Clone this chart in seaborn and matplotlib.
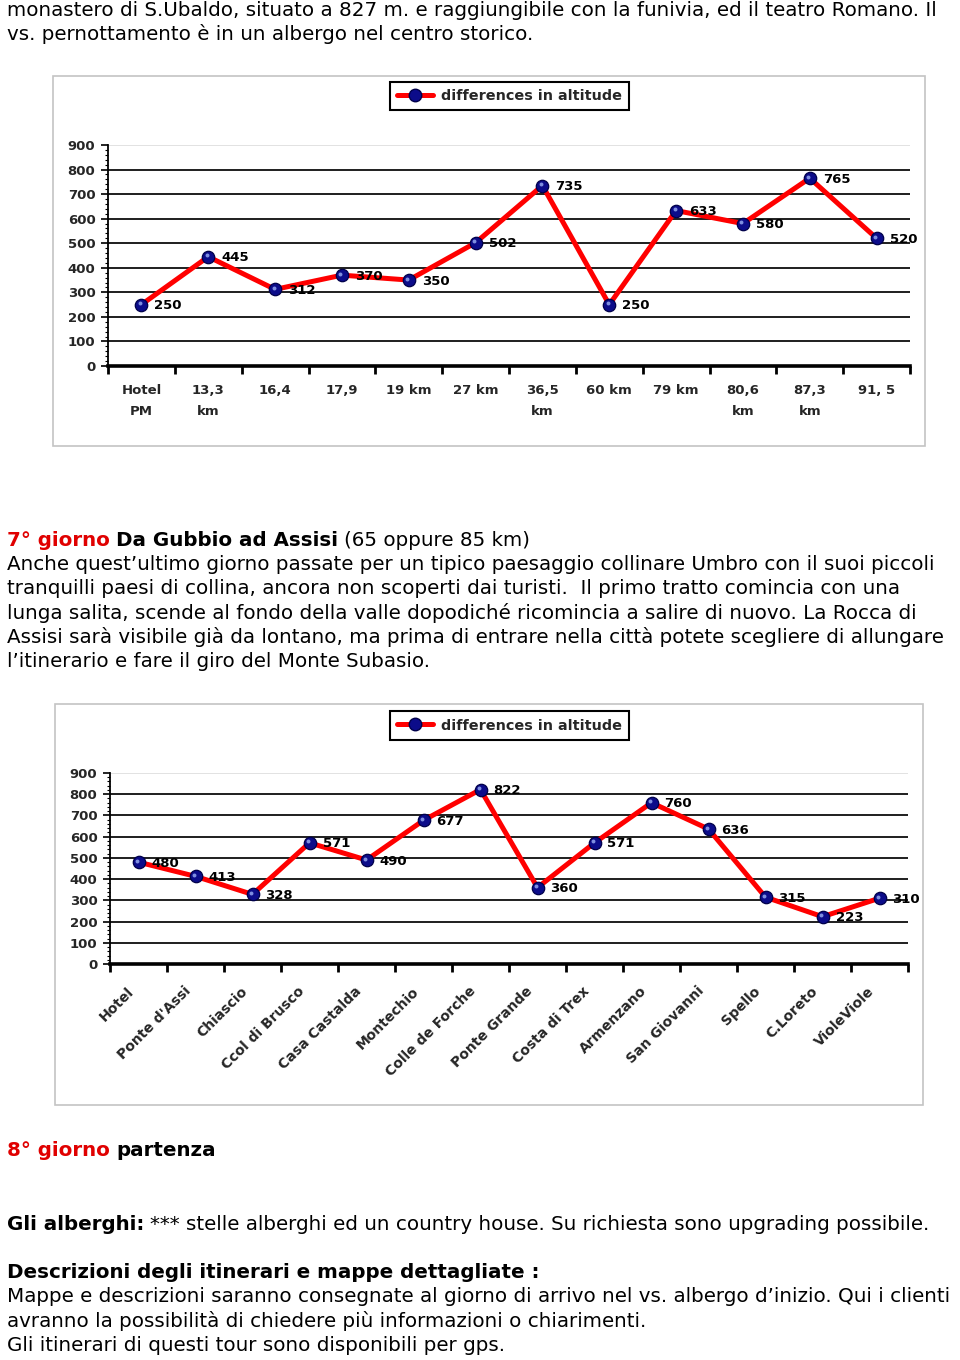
import numpy as np
import pandas as pd
import matplotlib
matplotlib.use("Agg")
import matplotlib.pyplot as plt
import matplotlib.transforms as mtransforms
from matplotlib.lines import Line2D
from matplotlib.patches import Rectangle
from matplotlib.ticker import MultipleLocator
import seaborn as sns

# ---------------- data ----------------
series_name = "differences in altitude"
y_ticks = [0, 100, 200, 300, 400, 500, 600, 700, 800, 900]

stage1_labels = ["Hotel\nPM", "13,3\nkm", "16,4", "17,9", "19 km", "27 km",
                 "36,5\nkm", "60 km", "79 km", "80,6\nkm", "87,3\nkm", "91, 5"]
stage1_alt = [250, 445, 312, 370, 350, 502, 735, 250, 633, 580, 765, 520]

stage2_labels = ["Hotel", "Ponte d'Assi", "Chiascio", "Ccol di Brusco",
                 "Casa Castalda", "Montechio", "Colle de Forche", "Ponte Grande",
                 "Costa di Trex", "Armenzano", "San Giovanni", "Spello",
                 "C.Loreto", "VioleViole"]
stage2_alt = [480, 413, 328, 571, 490, 677, 822, 360, 571, 760, 636, 315, 223, 310]

intro_lines = [
    "monastero di S.Ubaldo, situato a 827 m. e raggiungibile con la funivia, ed il teatro Romano. Il",
    "vs. pernottamento è in un albergo nel centro storico.",
]
day7_title = ["7° giorno", "Da Gubbio ad Assisi", "(65 oppure 85 km)"]
day7_lines = [
    "Anche quest’ultimo giorno passate per un tipico paesaggio collinare Umbro con il suoi piccoli",
    "tranquilli paesi di collina, ancora non scoperti dai turisti.  Il primo tratto comincia con una",
    "lunga salita, scende al fondo della valle dopodiché ricomincia a salire di nuovo. La Rocca di",
    "Assisi sarà visibile già da lontano, ma prima di entrare nella città potete scegliere di allungare",
    "l’itinerario e fare il giro del Monte Subasio.",
]
day8_title = ["8° giorno", "partenza"]
hotels_line = ["Gli alberghi:", "*** stelle alberghi ed un country house. Su richiesta sono upgrading possibile."]
descr_title = "Descrizioni degli itinerari e mappe dettagliate :"
descr_lines = [
    "Mappe e descrizioni saranno consegnate al giorno di arrivo nel vs. albergo d’inizio. Qui i clienti",
    "avranno la possibilità di chiedere più informazioni o chiarimenti.",
    "Gli itinerari di questi tour sono disponibili per gps.",
]

# ---------------- style ----------------
sns.set_theme(style="white")
plt.rcParams["font.family"] = ["DejaVu Sans"]

W, H = 960, 1360
fig = plt.figure(figsize=(W / 100, H / 100), dpi=100)
fig.patch.set_facecolor("white")

bg = fig.add_axes([0, 0, 1, 1], zorder=0)
bg.set_xlim(0, W)
bg.set_ylim(H, 0)
bg.axis("off")

TXT = 14.35
RED = "#e00000"
CHART_FONT = "DejaVu Sans"
CHART_SIZE = 9.5


def text_line(y, parts, x=7, size=TXT, gap=6):
    prev = None
    for txt, weight, color in parts:
        if prev is None:
            prev = bg.text(x, y, txt, ha="left", va="center", fontsize=size,
                           fontweight=weight, color=color, family="DejaVu Sans")
        else:
            prev = bg.annotate(txt, xy=(1, 0), xycoords=prev, xytext=(gap, 0),
                               textcoords="offset pixels", ha="left", va="bottom",
                               fontsize=size, fontweight=weight, color=color,
                               family="DejaVu Sans")
    return prev


# paragraphs
text_line(10, [(intro_lines[0], "normal", "black")])
text_line(34, [(intro_lines[1], "normal", "black")])

text_line(540, [(day7_title[0], "bold", RED), (day7_title[1], "bold", "black"),
                (day7_title[2], "normal", "black")])
for k, ln in enumerate(day7_lines):
    text_line(564 + k * 24.4, [(ln, "normal", "black")])

text_line(1150, [(day8_title[0], "bold", RED), (day8_title[1], "bold", "black")])
text_line(1224, [(hotels_line[0], "bold", "black"), (hotels_line[1], "normal", "black")])
text_line(1272, [(descr_title, "bold", "black")])
for k, ln in enumerate(descr_lines):
    text_line(1297 + k * 24.3, [(ln, "normal", "black")])


def chart(axrect, labels, values, box, leg_center, rotated):
    # outer chart frame
    bg.add_patch(Rectangle((box[0], box[1]), box[2] - box[0], box[3] - box[1],
                           fill=False, ec="#c4c4c4", lw=1.2))
    l, b, r, t = axrect
    ax = fig.add_axes([l / W, 1 - b / H, (r - l) / W, (b - t) / H], zorder=2)
    ax.patch.set_alpha(0)
    n = len(values)
    df = pd.DataFrame({"pos": np.arange(n), "alt": values})
    sns.lineplot(data=df, x="pos", y="alt", ax=ax, color="#ff0000", lw=3.6,
                 zorder=3)
    sns.scatterplot(data=df, x="pos", y="alt", ax=ax, color="#0c0c8a", s=80,
                    edgecolor="#00004a", linewidth=0.9, zorder=4)
    # glossy highlight
    hl = mtransforms.ScaledTranslation(-1.5 / 100, 1.5 / 100, fig.dpi_scale_trans)
    ax.scatter(df["pos"], df["alt"], s=8, color="#7f8fe0", linewidth=0,
               zorder=5, transform=ax.transData + hl)

    for i, v in zip(df["pos"], df["alt"]):
        ax.annotate(f"{v}", xy=(i, v), xytext=(13, -1), textcoords="offset pixels",
                    ha="left", va="center", fontsize=CHART_SIZE, fontweight="bold",
                    family=CHART_FONT, color="black", zorder=6)

    ax.set_xlim(-0.5, n - 0.5)
    ax.set_ylim(0, 900)
    ax.set_yticks(y_ticks)
    ax.yaxis.set_minor_locator(MultipleLocator(20))
    ax.set_xticks(np.arange(n))
    ax.set_xticks(np.arange(-0.5, n, 1), minor=True)
    ax.set_xticklabels(labels)
    ax.set_xlabel("")
    ax.set_ylabel("")

    ax.grid(axis="y", which="major", color="#1e1e1e", lw=1.4)
    ax.grid(axis="x", visible=False)
    ax.grid(axis="y", which="minor", visible=False)
    glines = ax.get_ygridlines()
    glines[-1].set_color("#e2e2e2")
    glines[0].set_visible(False)

    for s in ("top", "right"):
        ax.spines[s].set_visible(False)
    ax.spines["left"].set_color("black")
    ax.spines["left"].set_linewidth(1.3)
    ax.spines["bottom"].set_color("black")
    ax.spines["bottom"].set_linewidth(2.6)

    ax.tick_params(axis="y", which="major", left=True, length=5, width=1.2,
                   pad=4, labelsize=CHART_SIZE, color="black")
    ax.tick_params(axis="y", which="minor", left=True, length=2.5, width=0.8,
                   color="black")
    ax.tick_params(axis="x", which="major", bottom=True, length=0,
                   labelsize=CHART_SIZE if not rotated else 10)
    ax.tick_params(axis="x", which="minor", bottom=True, length=6, width=2,
                   color="black")
    for lbl in ax.get_yticklabels():
        lbl.set_fontweight("bold")
        lbl.set_family(CHART_FONT)
    if rotated:
        ax.tick_params(axis="x", which="major", pad=18)
        off = mtransforms.ScaledTranslation(-7 / 100, 0, fig.dpi_scale_trans)
        for lbl in ax.get_xticklabels():
            lbl.set_rotation(45)
            lbl.set_ha("right")
            lbl.set_va("center")
            lbl.set_rotation_mode("anchor")
            lbl.set_fontweight("bold")
            lbl.set_family(CHART_FONT)
            lbl.set_transform(lbl.get_transform() + off)
    else:
        ax.tick_params(axis="x", which="major", pad=13)
        for lbl in ax.get_xticklabels():
            lbl.set_fontweight("bold")
            lbl.set_family(CHART_FONT)
            lbl.set_linespacing(1.8)

    handle = Line2D([], [], color="#ff0000", lw=3.6, marker="o", ms=9,
                    mfc="#0c0c8a", mec="#00004a")
    leg = fig.legend([handle], [series_name], loc="center",
                     bbox_to_anchor=(leg_center[0] / W, 1 - leg_center[1] / H),
                     frameon=True, fancybox=False, framealpha=1,
                     edgecolor="black", facecolor="white",
                     prop=dict(weight="bold", size=10.4, family=CHART_FONT),
                     handlelength=2.5, borderpad=0.5, handletextpad=0.55)
    leg.get_frame().set_linewidth(1.5)
    return ax


chart((108, 366, 910, 145), stage1_labels, stage1_alt, (53, 76, 925, 446),
      (509.5, 96), rotated=False)
chart((110, 964, 908, 773), stage2_labels, stage2_alt, (55, 704, 923, 1105),
      (509.5, 725.5), rotated=True)

fig.savefig("out.png", dpi=100, facecolor="white")
